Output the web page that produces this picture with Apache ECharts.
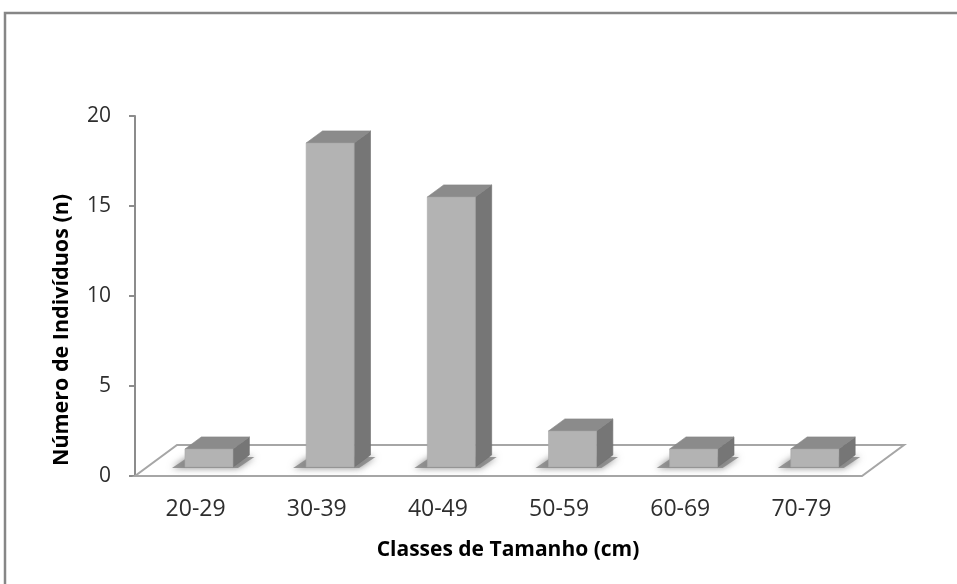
<!DOCTYPE html>
<html>
<head>
<meta charset="utf-8">
<script src="https://cdn.jsdelivr.net/npm/echarts@6/dist/echarts.min.js"></script>
<style>
  html, body { margin: 0; padding: 0; background: #ffffff; }
  #chart { width: 957px; height: 584px; }
</style>
</head>
<body>
<div id="chart"></div>
<script>
// Size classes and number of individuals per class
const classes = ['20-29', '30-39', '40-49', '50-59', '60-69', '70-79'];
const counts = [1, 18, 15, 2, 1, 1];
const yTicks = [0, 5, 10, 15, 20];

const FONT = "'Open Sans', 'Noto Sans', sans-serif";

// Floor depth (pixels) of the pseudo-3D plot area
const DEPTH_X = 42;
const DEPTH_Y = -31;
// Box placement inside the depth (fractions of depth)
const F_FRONT = 0.29;
const F_BACK = 0.68;
// Box placement across the category band (fractions of band width)
const B_LEFT = -0.188;
const B_RIGHT = 0.208;

const chart = echarts.init(document.getElementById('chart'), null, { renderer: 'canvas' });

function renderFloor(params, api) {
  const cs = params.coordSys;
  const x0 = cs.x, x1 = cs.x + cs.width, y0 = cs.y + cs.height;
  return {
    type: 'polygon',
    shape: {
      points: [
        [x0, y0], [x1, y0],
        [x1 + DEPTH_X, y0 + DEPTH_Y], [x0 + DEPTH_X, y0 + DEPTH_Y]
      ]
    },
    style: { fill: '#ffffff', stroke: '#a6a6a6', lineWidth: 2 },
    z2: 0
  };
}

function renderBox(params, api) {
  const i = api.value(0);
  const v = api.value(1);
  const base = api.coord([i, 0]);
  const top = api.coord([i, v]);
  const band = api.size([1, 0])[0];

  const fx = F_FRONT * DEPTH_X, fy = F_FRONT * DEPTH_Y;
  const dx = (F_BACK - F_FRONT) * DEPTH_X, dy = (F_BACK - F_FRONT) * DEPTH_Y;

  const xl = base[0] + B_LEFT * band + fx;
  const xr = base[0] + B_RIGHT * band + fx;
  const yb = base[1] + fy;
  const yt = top[1] + fy;

  // soft contact shadow on the floor, spread to the front-left
  const shadow = {
    type: 'polygon',
    shape: {
      points: [
        [xl - 13, yb + 1], [xr + 5, yb + 1],
        [xr + dx + 5, yb + dy + 2], [xl + dx - 13, yb + dy + 2]
      ]
    },
    style: {
      fill: 'rgba(130,130,130,0.8)',
      shadowBlur: 7,
      shadowColor: 'rgba(110,110,110,1)'
    },
    z2: 1
  };
  const front = {
    type: 'polygon',
    shape: { points: [[xl, yb], [xr, yb], [xr, yt], [xl, yt]] },
    style: { fill: '#b3b3b3', stroke: '#a9a9a9', lineWidth: 0.6 },
    z2: 4
  };
  const side = {
    type: 'polygon',
    shape: { points: [[xr, yb], [xr + dx, yb + dy], [xr + dx, yt + dy], [xr, yt]] },
    style: { fill: '#767676', stroke: '#6e6e6e', lineWidth: 0.6 },
    z2: 3
  };
  const lid = {
    type: 'polygon',
    shape: { points: [[xl, yt], [xr, yt], [xr + dx, yt + dy], [xl + dx, yt + dy]] },
    style: { fill: '#8b8b8b', stroke: '#848484', lineWidth: 0.6 },
    z2: 3
  };
  return { type: 'group', children: [shadow, side, lid, front] };
}

const option = {
  backgroundColor: '#ffffff',
  animation: false,
  grid: { left: 135, right: 95, top: 116, bottom: 108 },
  xAxis: {
    type: 'category',
    data: classes,
    boundaryGap: true,
    axisLine: { show: false },
    axisTick: { show: false },
    splitLine: { show: false },
    axisLabel: {
      margin: 22,
      color: '#2e2e2e',
      fontFamily: FONT,
      fontSize: 23
    }
  },
  yAxis: {
    type: 'value',
    min: yTicks[0],
    max: yTicks[yTicks.length - 1],
    interval: 5,
    axisLine: { show: true, lineStyle: { color: '#8c8c8c', width: 2 } },
    axisTick: { show: true, inside: false, length: 6, lineStyle: { color: '#8c8c8c', width: 2 } },
    splitLine: { show: false },
    axisLabel: {
      margin: 24,
      color: '#2e2e2e',
      fontFamily: FONT,
      fontSize: 21
    }
  },
  graphic: [
    {
      type: 'rect',
      shape: { x: 5, y: 13, width: 1000, height: 700 },
      style: { fill: 'none', stroke: '#868686', lineWidth: 2.5 },
      silent: true
    },
    {
      type: 'text',
      x: 62,
      y: 330,
      rotation: Math.PI / 2,
      style: {
        text: 'Número de Indivíduos (n)',
        fill: '#000000',
        font: 'bold 21.5px ' + FONT,
        align: 'center',
        verticalAlign: 'middle'
      }
    },
    {
      type: 'text',
      x: 508,
      y: 550,
      style: {
        text: 'Classes de Tamanho (cm)',
        fill: '#000000',
        font: 'bold 21px ' + FONT,
        align: 'center',
        verticalAlign: 'middle'
      }
    }
  ],
  series: [
    {
      type: 'custom',
      name: 'floor',
      renderItem: renderFloor,
      data: [[0, 0]],
      z: 1,
      silent: true
    },
    {
      type: 'custom',
      name: 'Indivíduos',
      renderItem: renderBox,
      data: counts.map((v, i) => [i, v]),
      encode: { x: 0, y: 1 },
      z: 2
    }
  ]
};

chart.setOption(option);
</script>
</body>
</html>
